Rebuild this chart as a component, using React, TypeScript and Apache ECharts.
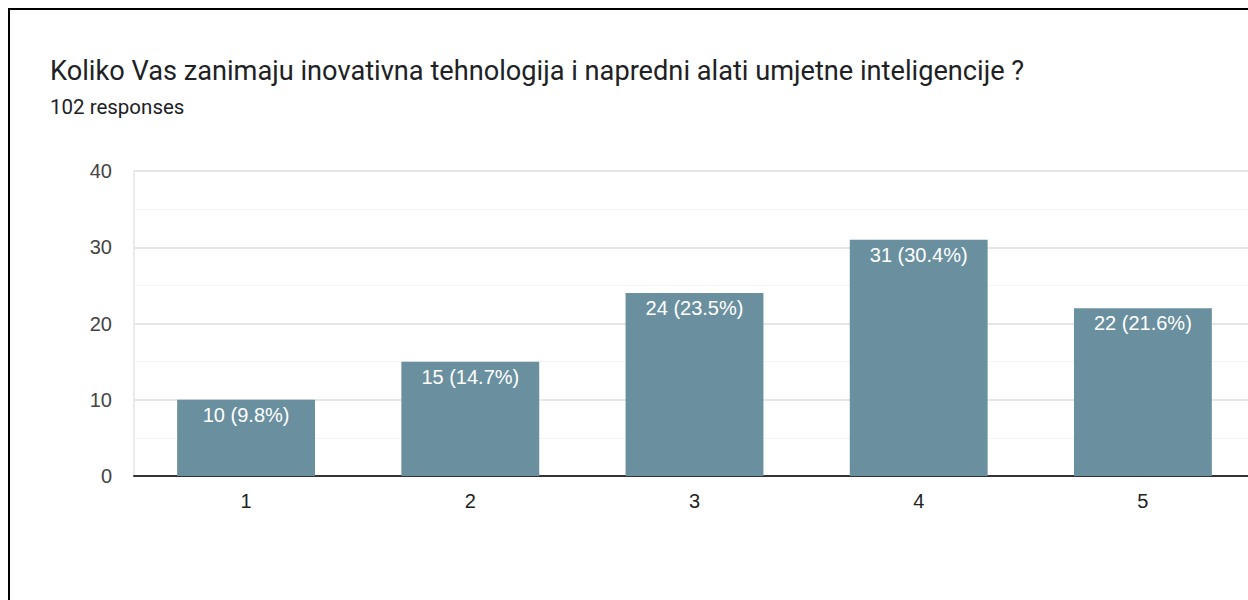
import React, { useEffect, useRef } from "react";
import * as echarts from "echarts";

const titleText = "Koliko Vas zanimaju inovativna tehnologija i napredni alati umjetne inteligencije ?";
const subtitleText = "102 responses";
const categories = ["1", "2", "3", "4", "5"];
const counts = [10, 15, 24, 31, 22];
const percents = ["9.8%", "14.7%", "23.5%", "30.4%", "21.6%"];

export default function App() {
  const ref = useRef<HTMLDivElement>(null);
  useEffect(() => {
    if (!ref.current) return;
    const chart = echarts.init(ref.current, null, { renderer: "svg" });
    chart.setOption({
      animation: false,
      backgroundColor: "#ffffff",
      graphic: [
        {
          type: "text",
          left: 40,
          top: 47,
          style: {
            text: titleText,
            fontFamily: "Roboto",
            fontSize: 27.2,
            fill: "#202124",
          },
        },
        {
          type: "text",
          left: 40,
          top: 86,
          style: {
            text: subtitleText,
            fontFamily: "Roboto",
            fontSize: 20.5,
            fill: "#202124",
          },
        },
      ],
      grid: { left: 124, top: 161, width: 1121, height: 305, containLabel: false },
      xAxis: {
        type: "category",
        data: categories,
        axisLine: { show: true, lineStyle: { color: "#333333", width: 2 } },
        axisTick: { show: false },
        axisLabel: {
          margin: 15,
          fontFamily: "Liberation Sans, Arial",
          fontSize: 20,
          color: "#222222",
        },
      },
      yAxis: {
        type: "value",
        min: 0,
        max: 40,
        interval: 10,
        axisLine: { show: true, lineStyle: { color: "#ebebeb", width: 2 } },
        axisTick: { show: false },
        axisLabel: {
          margin: 22,
          fontFamily: "Liberation Sans, Arial",
          fontSize: 20,
          color: "#444444",
        },
        splitLine: { show: true, lineStyle: { color: "#e6e6e6", width: 2 } },
        minorTick: { show: false, splitNumber: 2 },
        minorSplitLine: { show: true, lineStyle: { color: "#f3f3f3", width: 1 } },
      },
      series: [
        {
          type: "bar",
          data: counts,
          barWidth: "61.5%",
          itemStyle: { color: "#6a909f" },
          label: {
            show: true,
            position: "insideTop",
            distance: 5,
            fontFamily: "Liberation Sans, Arial",
            fontSize: 20,
            color: "#ffffff",
            formatter: (p: any) => `${p.value} (${percents[p.dataIndex]})`,
          },
        },
      ],
    });
    return () => chart.dispose();
  }, []);
  return (
    <div
      style={{
        position: "fixed",
        left: 8,
        top: 8,
        width: 1260,
        height: 600,
        overflow: "hidden",
        borderTop: "2px solid #000",
        borderLeft: "2px solid #000",
        boxSizing: "border-box",
        background: "#fff",
      }}
    >
      <div ref={ref} style={{ width: 1300, height: 598 }} />
    </div>
  );
}
